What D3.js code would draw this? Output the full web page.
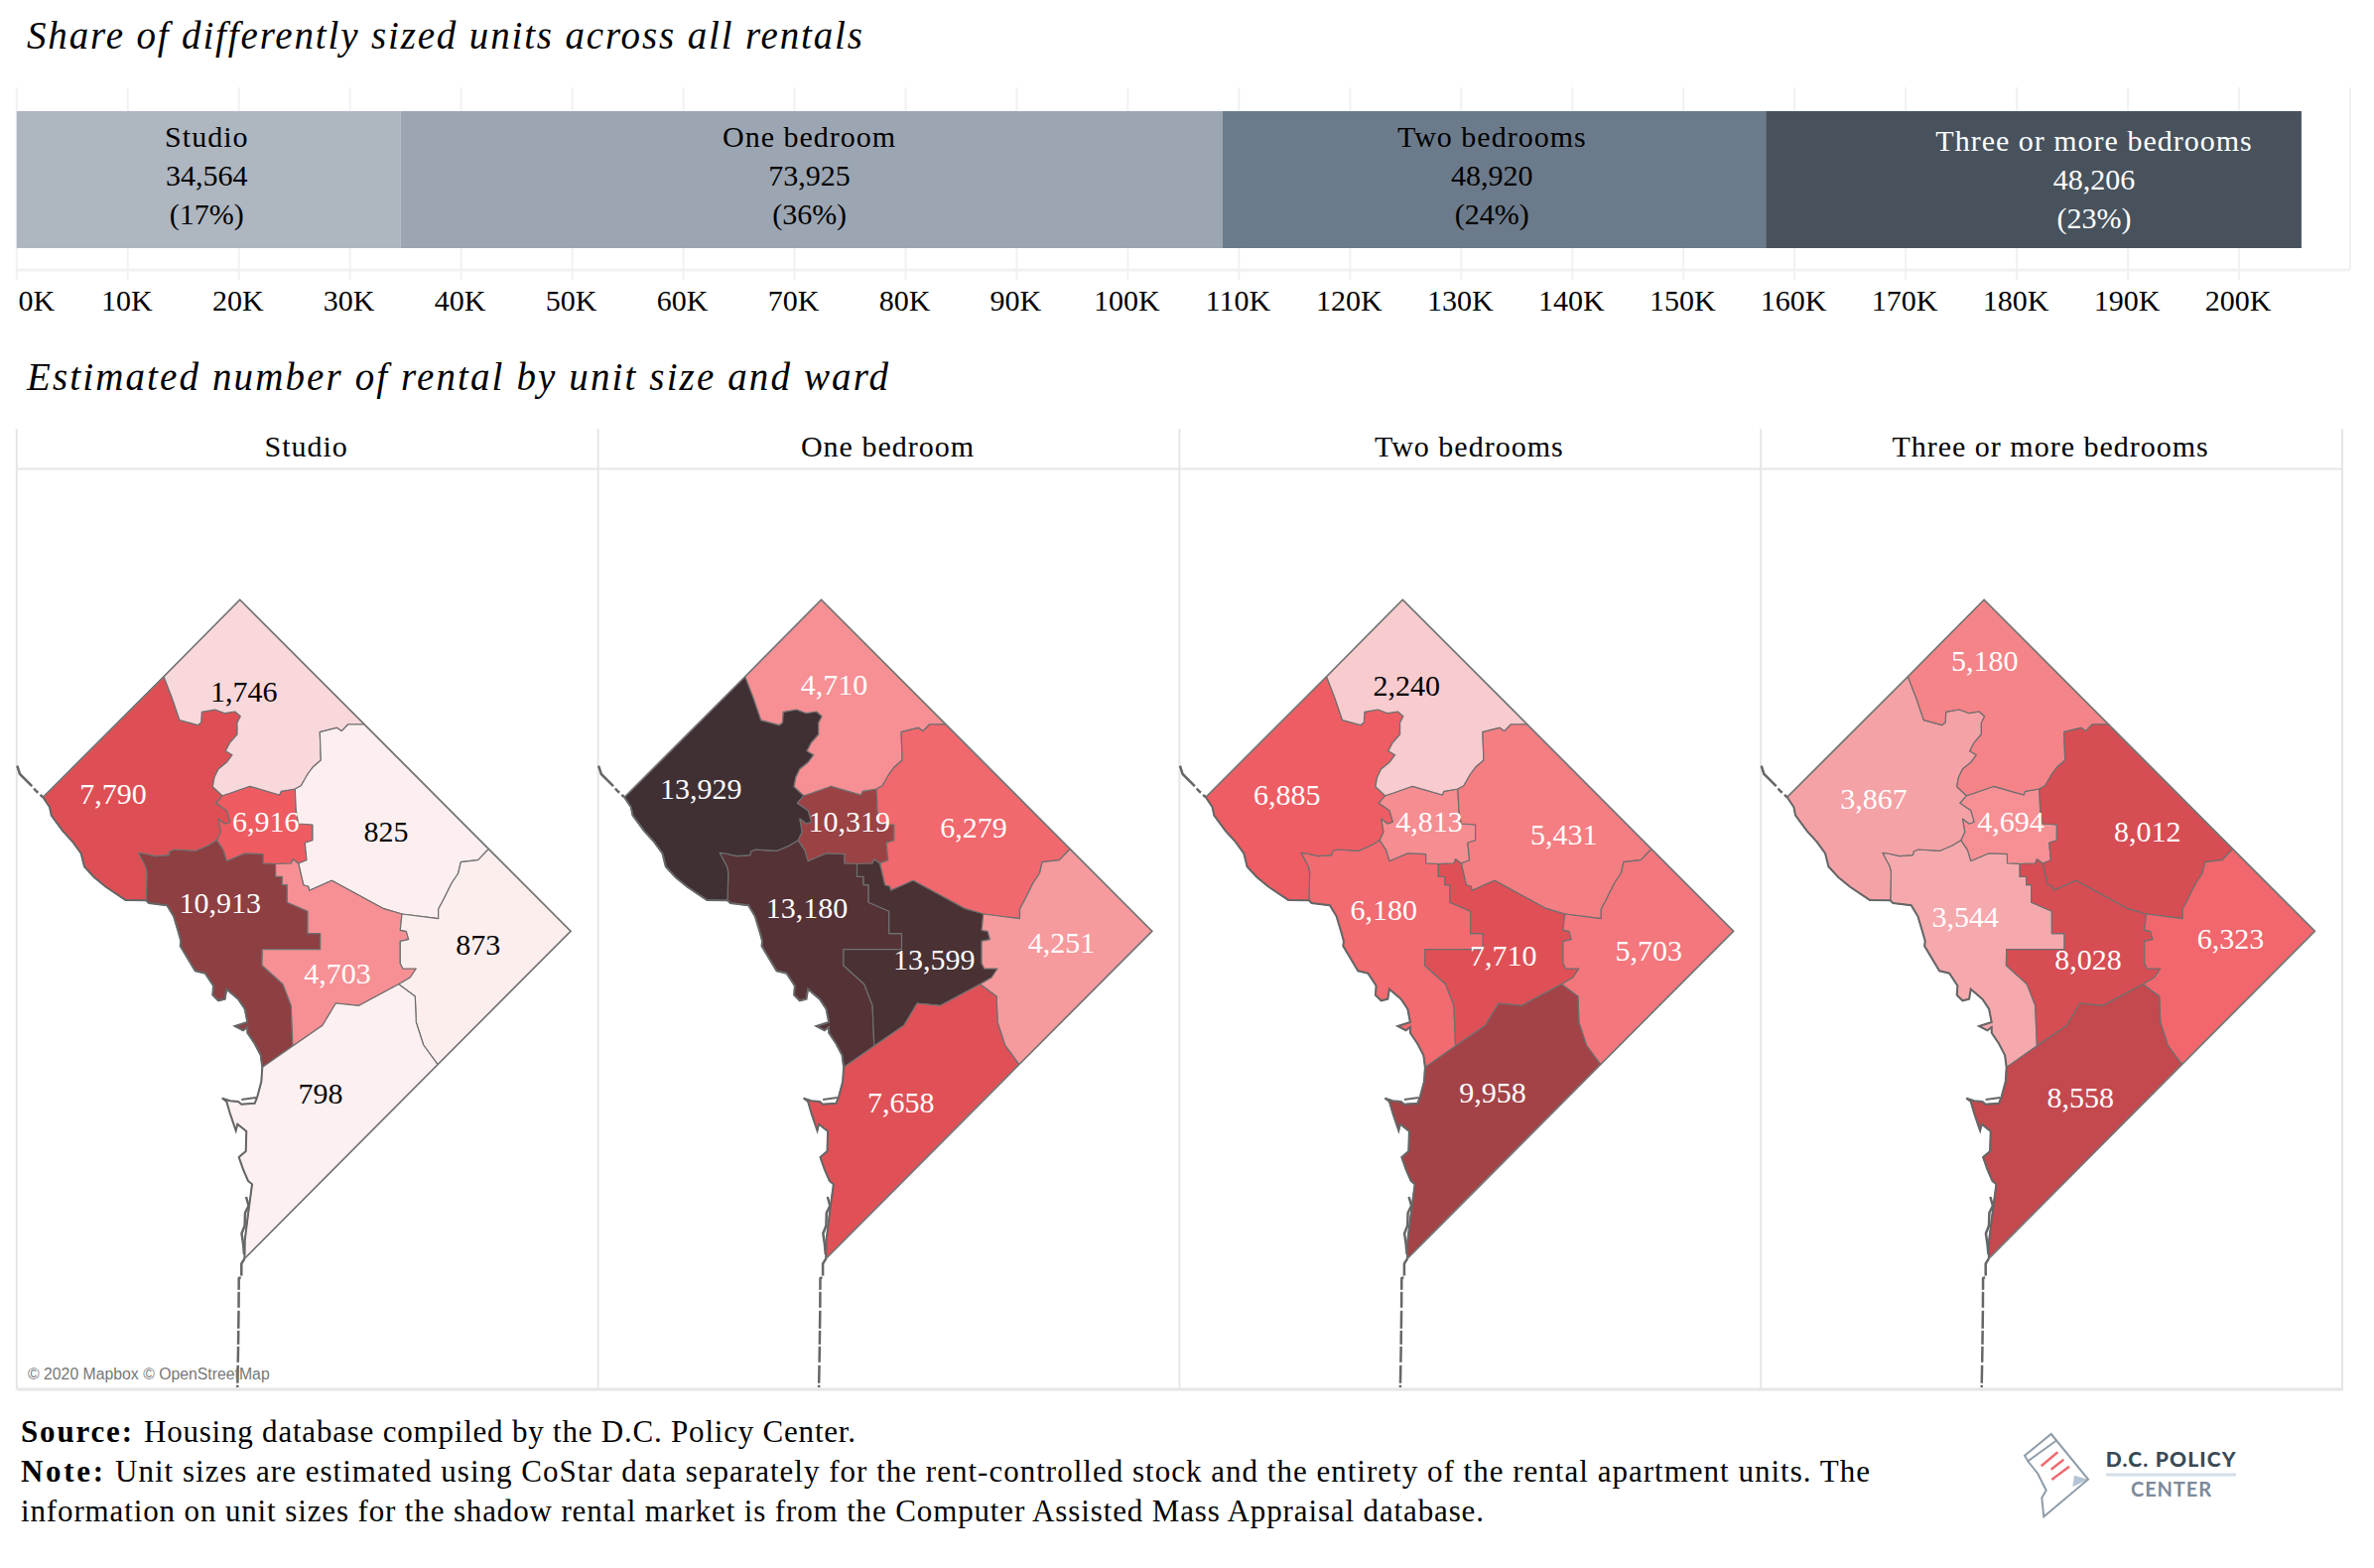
<!DOCTYPE html>
<html>
<head>
<meta charset="utf-8">
<script src="https://cdn.jsdelivr.net/npm/d3@7"></script>
<style>
  html, body { margin: 0; background: #fff; }
  svg { display: block; }
  text { font-family: "Liberation Serif", serif; fill: #000; }
</style>
</head>
<body>
<svg id="chart" width="2392" height="1580"></svg>
<script>
// top bar
var sizes = ["Studio", "One bedroom", "Two bedrooms", "Three or more bedrooms"];
var totals = [34564, 73925, 48920, 48206];
var shares = ["(17%)", "(36%)", "(24%)", "(23%)"];
var barColors = ["#aeb6c0", "#9ca6b2", "#6c7b8b", "#47525d"];
var barText = ["#000", "#000", "#000", "#fff"];
var tickValues = d3.range(0, 210000, 10000);

// units by ward, one list per unit size (wards in the order of wardNames)
var wardNames = ["w1", "w2", "w3", "w4", "w5", "w6", "w7", "w8"];
var studio = [6916, 10913, 7790, 1746, 825, 4703, 873, 798];
var oneBedroom = [10319, 13180, 13929, 4710, 6279, 13599, 4251, 7658];
var twoBedrooms = [4813, 6180, 6885, 2240, 5431, 7710, 5703, 9958];
var threeBedrooms = [4694, 3544, 3867, 5180, 8012, 8028, 6323, 8558];
var unitsBySize = [studio, oneBedroom, twoBedrooms, threeBedrooms];

// colour ramp stops, read from the ward fills
var rampValues = [798, 1746, 3544, 4703, 6323, 6916, 7790, 8558, 10913, 13180, 13929];
var rampColors = ["#fdf0f0", "#f9d8dc", "#f5a9ad", "#f69094", "#f1676d", "#ee5c62", "#de4f55", "#c3494f", "#8d3f42", "#553236", "#403033"];

// ward boundaries in map units, split in shared arcs
var apex = [241.7, 604.3], ne45 = [367.3, 729.8], ne57 = [492.3, 855.5], east = [575, 938.3];
var se78 = [441, 1072.7], tip = [246.4, 1268.3], west = [43.3, 803.3], nw34 = [165, 681.7];
var arc34 = [nw34, [173.3, 703.3], [181, 725.7], [199.3, 730.7], [202.7, 728], [203.3, 717.3], [216.7, 715], [226.7, 718.7], [236.7, 717], [242.3, 721.7], [239, 728.3], [239, 740], [231.7, 748.3], [227.3, 756.7], [234, 760.7], [228.3, 768.3], [220, 775], [216, 783.3], [214.3, 792.7], [224, 801.7]];
var arc41 = [[224, 801.7], [231.7, 799.3], [251.7, 792.3], [281.7, 801], [283.3, 797.3], [297.3, 795]];
var arc45 = [[297.3, 795], [303.3, 791.7], [310, 780], [315, 773.3], [323.3, 766], [322.3, 737.7], [339.3, 733.3], [344.3, 736.7], [350.7, 730], ne45];
var arc15 = [[297.3, 795], [298.3, 816.7], [300.7, 830], [315, 831], [315, 846.7], [307.3, 849.3], [309, 866.7], [300.7, 870]];
var arc31 = [[224, 801.7], [217.3, 809.3], [228.3, 816.7], [231.7, 828.3], [226.7, 830], [220, 825], [222.3, 838.3], [218.3, 846.7]];
var arc32 = [[139.3, 859.3], [145, 860], [156.7, 862.7], [170, 861.7], [171, 857.7], [175.7, 856], [197.3, 857.3], [206.7, 853.3], [210, 851.7], [218.3, 846.7]];
var arc32West = [[139.3, 859.3], [146.7, 873.3], [148, 879], [147.3, 907.3]];
var arc12 = [[218.3, 846.7], [225, 856.7], [228.3, 867.7], [246.7, 860], [265, 860.7], [265, 870], [277.7, 870.5]];
var arc16 = [[277.7, 870.5], [293.3, 870], [295, 865.7], [300.7, 870]];
var arc26 = [[277.7, 870.5], [277.7, 883.3], [284.3, 883.3], [284.3, 891.7], [289.3, 891.7], [289.3, 909.3], [310, 918.3], [310, 940.7], [322.7, 940.7], [322.7, 956.7], [264.3, 956.7], [264, 972.7], [285, 991.7], [293.3, 1013.3], [295, 1054]];
var arc57 = [ne57, [481.7, 866.7], [464.3, 868.7], [461.7, 880], [455, 890], [446.7, 906.7], [441.7, 916], [441.7, 925.7], [405, 921]];
var arc56 = [[405, 921], [386.7, 915.7], [334.3, 887.3], [311.7, 897.3], [310.7, 893.3], [305.7, 891.7], [300.7, 870]];
var arc67 = [[405, 921], [403.3, 937.3], [409.3, 938.3], [411.7, 946.7], [403.3, 948.3], [403.3, 970.7], [406, 976], [419.3, 976], [413.3, 985], [401.7, 991.7]];
var arc68 = [[264.3, 1075.5], [295, 1054], [325, 1033.3], [338.3, 1011], [361.7, 1013.3], [401.7, 991.7]];
var arc78 = [[401.7, 991.7], [418.3, 1004], [419.3, 1030], [426.7, 1053], se78];
var shore3 = [west, [50, 813.3], [51.7, 821.7], [63.3, 837.3], [73.3, 848.3], [81.7, 860], [85, 873.3], [94.9, 884], [106.8, 893.8], [126.5, 906.9], [147.3, 907.3]];
var shore2 = [[147.3, 907.3], [150, 910], [168.3, 912.3], [175, 923.3], [180, 940], [182.3, 948.3], [181.7, 953.3], [196.7, 978.3], [206.7, 980.7], [215, 993.3], [214.3, 1002.7], [220, 1008.3], [226.7, 1006.7], [228.3, 996.7], [240, 1006.7], [246.7, 1016.7], [249.3, 1030], [236.7, 1034], [245, 1038.3], [249.3, 1035], [249.3, 1040.7], [256.7, 1051.7], [262.7, 1063.3], [264.3, 1075.5]];
var shore8 = [[264.3, 1075.5], [263.3, 1090], [259.3, 1105], [256.7, 1111.7], [243.3, 1112.7], [240, 1110], [231.7, 1109.3], [224, 1106.7], [228.3, 1110], [231.7, 1121.7], [237.7, 1139.3], [239.3, 1132.7], [248.3, 1140], [247.7, 1160], [240.7, 1166], [245, 1178.3], [250, 1190], [254, 1193.3], [250, 1223.3], [246.7, 1250], tip];
var riverNorth = [[17.3, 771.7], [20, 780], [31.7, 791.7], [36, 796.7], west];
var riverSouth = [tip, [243.3, 1273.3], [243.3, 1286.7], [240.7, 1288], [240.5, 1320], [240, 1360], [239.3, 1398]];
var riverShore = [[248, 1206], [250.5, 1215], [247, 1222], [246.6, 1235], [243.5, 1243], [245, 1253], [246, 1264]];
var riverInlet = [[243.3, 1108], [258, 1106]];

// label spots per panel, same order as wardNames
var labelSpots = [
  [[267.7, 828.3], [221.7, 910], [114, 800], [245.7, 696.7], [389, 838.3], [340, 980.7], [481.7, 951.7], [323, 1101.7]],
  [[270, 828.3], [227.3, 915.3], [120.5, 794.8], [254.8, 689.5], [395.1, 834.4], [355.4, 967.2], [483.6, 950.4], [321.9, 1110.6]],
  [[268.5, 828.3], [222.7, 916.8], [125.1, 800.9], [245.6, 691], [404.2, 840.5], [343.2, 962.6], [489.7, 958], [332.5, 1101.4]],
  [[268.5, 828.4], [222.8, 924.1], [130.7, 804.9], [242.3, 666.3], [406.3, 837.8], [346.6, 967], [490.2, 946.1], [338.8, 1105.6]]
];

function back(a) { return a.slice().reverse(); }
var wardRings = {
  w1: [].concat(arc41, arc15, back(arc16), back(arc12), back(arc31)),
  w2: [].concat(arc32, arc12, arc26, [[264.3, 1075.5]], back(shore2), back(arc32West)),
  w3: [].concat(arc34, arc31, back(arc32), arc32West, back(shore3)),
  w4: [].concat([apex], back(arc45), back(arc41), back(arc34)),
  w5: [].concat([ne45], arc57, arc56, back(arc15), arc45),
  w6: [].concat(arc16, back(arc56), arc67, back(arc68).slice(0, -1), back(arc26)),
  w7: [].concat([ne57, east], back(arc78), back(arc67), back(arc57)),
  w8: [].concat(arc68, arc78, back(shore8))
};

var svg = d3.select("#chart");
var baseFont = 30;

function title(y, txt, len) {
  svg.append("text").attr("x", 27).attr("y", y)
    .attr("textLength", len).attr("lengthAdjust", "spacing")
    .style("font-size", "39px").style("font-style", "italic").text(txt);
}
title(49, "Share of differently sized units across all rentals", 842);
title(393, "Estimated number of rental by unit size and ward", 868);

// ---- stacked bar ----
var x = d3.scaleLinear().domain([0, 210000]).range([16.8, 2368]);
var grid = svg.append("g").attr("class", "bar-grid");
grid.selectAll("line.v").data(tickValues.concat([210000])).enter().append("line")
  .attr("class", "v").attr("x1", d => x(d)).attr("x2", d => x(d))
  .attr("y1", 88).attr("y2", d => d < 210000 ? 282 : 272)
  .attr("stroke", "#f1f1f1").attr("stroke-width", 2);
grid.append("line").attr("x1", x(0)).attr("x2", x(210000)).attr("y1", 272).attr("y2", 272)
  .attr("stroke", "#f1f1f1").attr("stroke-width", 3);

var cum = 0;
var stacked = sizes.map(function (s, i) {
  var r = { name: s, value: totals[i], share: shares[i], start: cum, fill: barColors[i], ink: barText[i], i: i };
  cum += totals[i];
  return r;
});
svg.append("g").selectAll("rect").data(stacked).enter().append("rect")
  .attr("x", d => x(d.start)).attr("width", d => x(d.start + d.value) - x(d.start))
  .attr("y", 112).attr("height", 138).attr("fill", d => d.fill);

var barLabels = svg.append("g").selectAll("g").data(stacked).enter().append("g")
  .attr("transform", function (d) {
    // the last label sits off-centre in the reference, and a little lower
    var dx = d.i == 3 ? 61 : -2, dy = d.i == 3 ? 4 : 0;
    return "translate(" + (x(d.start + d.value / 2) + dx) + "," + dy + ")";
  });
barLabels.each(function (d) {
  var g = d3.select(this);
  [[d.name, 148, 1], [d3.format(",")(d.value), 187, 0], [d.share, 226, 0]].forEach(function (row) {
    g.append("text").attr("y", row[1]).attr("text-anchor", "middle")
      .style("fill", d.ink).style("font-size", baseFont + "px")
      .style("letter-spacing", row[2] + "px").text(row[0]);
  });
});

var ticks = svg.append("g").selectAll("text").data(tickValues).enter().append("text")
  .attr("x", d => d == 0 ? x(d) + 20 : x(d) - 1).attr("y", 313)
  .attr("text-anchor", "middle").style("font-size", baseFont + "px")
  .text(d => (d / 1000) + "K");

// ---- map panels ----
var panelX = d3.scaleBand().domain(sizes).range([16.8, 2360]);
var frame = svg.append("g").attr("class", "panel-frame");
var frameColor = "#e6e6e6";
frame.selectAll("line.sep").data(sizes.concat(["end"])).enter().append("line")
  .attr("class", "sep")
  .attr("x1", d => d == "end" ? 2360 : panelX(d)).attr("x2", d => d == "end" ? 2360 : panelX(d))
  .attr("y1", 432).attr("y2", 1400)
  .attr("stroke", frameColor).attr("stroke-width", 2);
frame.append("line").attr("x1", 16.8).attr("x2", 2360).attr("y1", 472.5).attr("y2", 472.5)
  .attr("stroke", frameColor).attr("stroke-width", 2);
frame.append("line").attr("x1", 16.8).attr("x2", 2361).attr("y1", 1400).attr("y2", 1400)
  .attr("stroke", frameColor).attr("stroke-width", 3);

frame.selectAll("text").data(sizes).enter().append("text")
  .attr("x", d => panelX(d) + panelX.bandwidth() / 2 - 1).attr("y", 460)
  .attr("text-anchor", "middle").style("font-size", baseFont + "px").style("letter-spacing", "1px")
  .text(d => d);

var mapX = d3.scaleLinear().domain([0, 600]).range([0, 600]);
var mapY = d3.scaleLinear().domain([600, 1400]).range([600, 1400]);
var ramp = d3.scaleLinear().domain(rampValues).range(rampColors).interpolate(d3.interpolateRgb);
var ring = d3.line().x(d => mapX(d[0])).y(d => mapY(d[1]));

sizes.forEach(function (size, p) {
  var panel = svg.append("g").attr("class", "map")
    .attr("transform", "translate(" + (panelX(size) - panelX(sizes[0])) + ",0)");

  panel.selectAll("path.ward").data(wardNames).enter().append("path")
    .attr("class", "ward")
    .attr("d", w => ring(wardRings[w]) + "Z")
    .attr("fill", (w, i) => ramp(unitsBySize[p][i]))
    .attr("stroke", "#6f6f6f").attr("stroke-width", 1.2).attr("stroke-linejoin", "round");

  // outline drawn heavier on the river side and along the straight edges
  [shore3, shore2, shore8].forEach(function (s) {
    panel.append("path").attr("d", ring(s)).attr("fill", "none")
      .attr("stroke", "#666").attr("stroke-width", 2);
  });
  panel.append("path").attr("d", ring([west, nw34, apex, east, se78, tip])).attr("fill", "none")
    .attr("stroke", "#777").attr("stroke-width", 1.6);
  panel.append("path").attr("d", ring(riverNorth)).attr("fill", "none")
    .attr("stroke", "#666").attr("stroke-width", 2.5).attr("stroke-dasharray", "26 3 6 3");
  panel.append("path").attr("d", ring(riverSouth)).attr("fill", "none")
    .attr("stroke", "#666").attr("stroke-width", 2.5).attr("stroke-dasharray", "18 2 14 2 16 3");
  panel.append("path").attr("d", ring(riverShore)).attr("fill", "none")
    .attr("stroke", "#666").attr("stroke-width", 2.5);
  panel.append("path").attr("d", ring(riverInlet)).attr("fill", "none")
    .attr("stroke", "#666").attr("stroke-width", 2);

  panel.selectAll("text").data(wardNames).enter().append("text")
    .attr("x", (w, i) => mapX(labelSpots[p][i][0]))
    .attr("y", (w, i) => mapY(labelSpots[p][i][1]) + 10)
    .attr("text-anchor", "middle")
    .style("font-size", baseFont + "px")
    .style("fill", (w, i) => unitsBySize[p][i] < 3000 ? "#000" : "#fff")
    .text((w, i) => d3.format(",")(unitsBySize[p][i]));
});

svg.append("text").attr("x", 28).attr("y", 1390)
  .style("font-family", '"Liberation Sans", sans-serif').style("font-size", "15.8px").style("fill", "#777")
  .text("© 2020 Mapbox © OpenStreetMap");

// ---- footer ----
function foot(xPos, y, txt, end, bold) {
  var t = svg.append("text").attr("x", xPos).attr("y", y).style("font-size", "31px").text(txt);
  if (bold) t.style("font-weight", "bold");
  if (end) t.attr("textLength", end - xPos).attr("lengthAdjust", "spacing");
}
foot(21, 1453, "Source:", 133, true);
foot(145, 1453, "Housing database compiled by the D.C. Policy Center.", 862);
foot(21, 1493, "Note:", 104, true);
foot(116, 1493, "Unit sizes are estimated using CoStar data separately for the rent-controlled stock and the entirety of the rental apartment units. The", 1884);
foot(21, 1533, "information on unit sizes for the shadow rental market is from the Computer Assisted Mass Appraisal database.", 1495);

// ---- logo ----
var logoBody = [[2066.7, 1445], [2104, 1490.7], [2059.3, 1528.3], [2057.3, 1509.3], [2061.7, 1501.7], [2053.3, 1485], [2044, 1473.3], [2040, 1466.7]];
var logoFold = [[2104, 1490.7], [2090, 1486.7], [2088.3, 1498.3]];
var logoBand = [[2042.7, 1472.7], [2071.7, 1451.7]];
var logoStripes = [[[2056.7, 1477.3], [2073.3, 1463.3]], [[2066.7, 1480.7], [2079.3, 1470.7]], [[2067.3, 1491], [2085, 1477.7]]];
var logo = svg.append("g").attr("class", "logo");
logo.append("path").attr("d", ring(logoFold) + "Z").attr("fill", "#b5c4d3");
logo.append("path").attr("d", ring(logoBody) + "Z").attr("fill", "none").attr("stroke", "#8f9ca8").attr("stroke-width", 2);
logo.append("path").attr("d", ring(logoBand)).attr("stroke", "#8f9ca8").attr("stroke-width", 2);
logo.selectAll("path.stripe").data(logoStripes).enter().append("path").attr("class", "stripe")
  .attr("d", ring).attr("stroke", "#ee6a70").attr("stroke-width", 2.5);
logo.append("text").attr("x", 2121.7).attr("y", 1478).attr("textLength", 131)
  .style("font-family", "Lato, sans-serif").style("font-weight", "900").style("font-size", "21px").style("fill", "#3a4a56")
  .text("D.C. POLICY");
logo.append("line").attr("x1", 2122).attr("x2", 2253).attr("y1", 1486).attr("y2", 1486)
  .attr("stroke", "#d5dfe8").attr("stroke-width", 3);
logo.append("text").attr("x", 2147).attr("y", 1507.5).attr("textLength", 81)
  .style("font-family", "Lato, sans-serif").style("font-weight", "bold").style("font-size", "20px").style("fill", "#7d8a99")
  .text("CENTER");
</script>
</body>
</html>
